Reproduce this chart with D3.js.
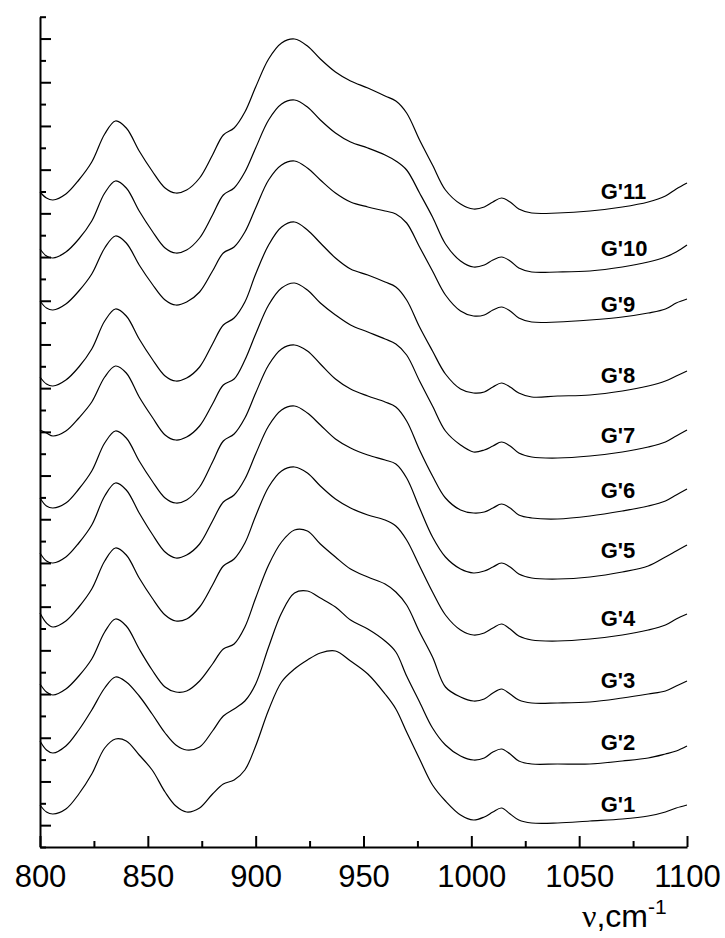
<!DOCTYPE html>
<html>
<head>
<meta charset="utf-8">
<script src="https://cdn.jsdelivr.net/npm/d3@7"></script>
<style>
  html, body { margin: 0; padding: 0; background: #fff; }
  svg { display: block; }
  .axis path, .axis line { stroke: #000; stroke-width: 2; }
  .spectrum { fill: none; stroke: #000; stroke-width: 1.2; }
</style>
</head>
<body>
<div id="chart"></div>
<script>
// wavenumbers, cm-1 (shared by every spectrum)
const wavenumbers = [800, 803, 806, 812, 818, 824, 830, 835, 840, 846,
  852, 858, 863, 868, 874, 880, 885, 890, 895, 900,
  906, 912, 918, 924, 930, 937, 944, 952, 960, 965,
  970, 976, 982, 988, 995, 1001, 1006, 1010, 1014, 1018,
  1022, 1028, 1040, 1055, 1070, 1082, 1090, 1095, 1100];

// stacked spectra, arbitrary units (already shifted as in the figure)
const g1 = [4.2, 3.5, 3.3, 3.8, 5.3, 7.3, 9.9, 10.8, 10.6, 9.2,
  7.7, 5.5, 4.1, 3.5, 3.9, 5.3, 6.3, 6.7, 7.7, 10.1,
  13.7, 16.5, 17.8, 18.7, 19.4, 19.6, 18.6, 17.3, 15.3, 13.8,
  11.5, 8.8, 6.2, 4.6, 3.2, 2.7, 3.0, 3.5, 3.9, 3.3,
  2.7, 2.4, 2.4, 2.6, 2.8, 3.1, 3.5, 3.9, 4.2];
const g2 = [10.6, 9.7, 9.4, 10.1, 11.7, 13.7, 15.9, 17.0, 16.5, 15.1,
  13.3, 11.4, 10.2, 9.7, 10.0, 11.6, 13.1, 13.8, 14.6, 16.3,
  20.0, 23.4, 25.4, 25.6, 24.9, 24.0, 22.7, 21.8, 20.6, 19.5,
  17.1, 14.5, 11.9, 10.2, 9.1, 8.7, 8.9, 9.5, 9.8, 9.3,
  8.6, 8.3, 8.3, 8.3, 8.6, 8.9, 9.3, 9.6, 10.1];
const g3 = [16.3, 15.5, 15.2, 15.8, 17.1, 18.8, 21.5, 22.8, 22.1, 19.8,
  17.7, 16.0, 15.5, 15.6, 16.6, 18.3, 19.8, 20.3, 22.0, 24.9,
  28.2, 30.5, 31.7, 31.6, 30.3, 29.0, 27.8, 27.0, 26.3, 25.5,
  24.2, 21.5, 19.0, 16.0, 15.0, 14.6, 14.8, 15.4, 15.8, 15.3,
  14.7, 14.4, 14.4, 14.5, 14.9, 15.3, 15.6, 16.1, 16.6];
const g4 = [23.4, 22.4, 22.0, 22.6, 24.0, 25.8, 28.6, 29.9, 29.2, 26.9,
  24.9, 23.2, 22.6, 22.8, 24.0, 26.2, 28.1, 28.8, 30.4, 33.1,
  36.0, 37.6, 38.0, 37.4, 36.1, 34.8, 33.9, 33.2, 32.7, 32.1,
  30.7, 28.1, 25.5, 23.2, 21.7, 21.2, 21.4, 21.9, 22.3, 21.8,
  21.1, 20.7, 20.6, 20.8, 21.2, 21.7, 22.2, 22.8, 23.3];
const g5 = [29.4, 28.6, 28.4, 29.0, 30.4, 32.2, 35.1, 36.4, 35.7, 33.4,
  31.3, 29.5, 28.9, 29.2, 30.3, 32.6, 34.5, 35.2, 36.8, 39.3,
  42.1, 43.7, 44.1, 43.4, 42.2, 40.8, 39.9, 39.2, 38.7, 38.3,
  36.9, 33.9, 31.0, 29.0, 27.8, 27.4, 27.6, 28.0, 28.4, 28.0,
  27.3, 26.9, 26.8, 27.0, 27.5, 28.1, 29.0, 29.6, 30.2];
const g6 = [34.9, 34.1, 33.9, 34.4, 35.8, 37.6, 40.4, 41.6, 40.9, 38.6,
  36.6, 34.9, 34.4, 34.7, 36.0, 38.5, 40.6, 41.3, 42.9, 45.4,
  48.2, 49.8, 50.2, 49.6, 48.3, 46.8, 45.8, 45.1, 44.5, 44.0,
  42.6, 39.7, 37.1, 34.9, 33.7, 33.4, 33.5, 33.9, 34.3, 33.9,
  33.2, 32.9, 32.8, 33.1, 33.6, 34.1, 34.6, 35.2, 35.8];
const g7 = [41.7, 41.4, 41.1, 41.6, 42.9, 44.5, 47.0, 48.1, 47.4, 45.0,
  43.0, 41.2, 40.7, 41.0, 42.1, 44.3, 46.2, 46.8, 48.7, 51.3,
  54.2, 55.9, 56.4, 55.7, 54.4, 53.2, 52.2, 51.5, 50.8, 50.3,
  49.2, 46.6, 44.1, 41.6, 40.2, 39.5, 39.7, 40.1, 40.5, 40.1,
  39.4, 39.0, 38.9, 39.1, 39.5, 40.0, 40.5, 41.1, 41.7];
const g8 = [47.0, 46.3, 46.1, 46.7, 48.0, 49.8, 52.6, 53.8, 53.1, 50.8,
  48.8, 47.1, 46.6, 46.9, 48.0, 50.3, 52.2, 52.9, 54.5, 57.3,
  60.2, 62.0, 62.5, 61.7, 60.4, 58.9, 57.8, 57.2, 56.5, 56.0,
  54.7, 52.0, 49.6, 47.3, 45.8, 45.4, 45.5, 46.0, 46.4, 46.0,
  45.4, 45.0, 45.1, 45.2, 45.6, 46.1, 46.6, 47.1, 47.6];
const g9 = [54.6, 53.9, 53.7, 54.3, 55.6, 57.3, 59.9, 61.1, 60.4, 58.2,
  56.3, 54.7, 54.2, 54.5, 55.5, 57.6, 59.4, 60.0, 61.5, 63.9,
  66.7, 68.2, 68.6, 67.9, 66.7, 65.4, 64.5, 64.0, 63.6, 63.3,
  62.4, 60.0, 57.6, 55.2, 53.6, 53.1, 53.2, 53.7, 54.0, 53.6,
  52.9, 52.5, 52.5, 52.7, 53.0, 53.4, 53.8, 54.4, 54.8];
const g10 = [59.8, 59.1, 58.9, 59.5, 60.8, 62.6, 65.4, 66.6, 65.9, 63.6,
  61.6, 59.9, 59.4, 59.7, 60.9, 63.2, 65.2, 65.9, 67.5, 69.9,
  72.7, 74.3, 74.7, 74.0, 72.7, 71.4, 70.5, 69.9, 69.2, 68.6,
  67.7, 65.4, 63.0, 60.3, 58.6, 58.0, 58.2, 58.7, 59.0, 58.6,
  57.9, 57.5, 57.5, 57.6, 58.0, 58.5, 59.0, 59.5, 60.2];
const g11 = [65.5, 64.9, 64.7, 65.3, 66.7, 68.5, 71.3, 72.6, 71.9, 69.6,
  67.6, 65.9, 65.4, 65.7, 66.9, 69.2, 71.2, 71.9, 73.5, 76.0,
  78.8, 80.4, 80.8, 80.1, 78.8, 77.5, 76.6, 75.9, 75.1, 74.6,
  73.4, 70.7, 68.2, 65.7, 64.3, 63.8, 64.0, 64.5, 64.9, 64.5,
  63.8, 63.4, 63.4, 63.6, 64.0, 64.5, 65.1, 65.8, 66.4];

const labels = ["G'1", "G'2", "G'3", "G'4", "G'5", "G'6", "G'7", "G'8", "G'9", "G'10", "G'11"];
const labelY = [3.5, 9.7, 15.9, 22.1, 28.9, 34.9, 40.4, 46.4, 53.5, 59.1, 64.8];
const labelX = 1060;

const xMajor = [800, 850, 900, 950, 1000, 1050, 1100];
const xMinor = [825, 875, 925, 975, 1025, 1075];

const width = 725, height = 938;
const margin = {top: 16.7, right: 38, bottom: 91, left: 40};
const yMax = 83.03;
const sans = "'Liberation Sans', Arial, Helvetica, sans-serif";

const x = d3.scaleLinear().domain([800, 1100]).range([margin.left, width - margin.right]);
const y = d3.scaleLinear().domain([0, yMax]).range([height - margin.bottom, margin.top]);

const svg = d3.select("#chart")
  .append("svg")
    .attr("width", width)
    .attr("height", height);

// spectra
const spectra = [g1, g2, g3, g4, g5, g6, g7, g8, g9, g10, g11];
const line = d3.line()
  .x((d, i) => x(wavenumbers[i]))
  .y(d => y(d))
  .curve(d3.curveCatmullRom.alpha(0.5));

svg.selectAll("path.spectrum")
  .data(spectra)
  .join("path")
    .attr("class", "spectrum")
    .attr("d", line);

// sample names
svg.selectAll("text.label")
  .data(labels)
  .join("text")
    .attr("class", "label")
    .attr("x", x(labelX))
    .attr("y", (d, i) => y(labelY[i]))
    .attr("font-family", sans)
    .attr("font-weight", "bold")
    .attr("font-size", 22)
    .text(d => d);

// y axis: no labels, alternating short/long ticks pointing inside
const yTicks = d3.range(39).map(i => i * yMax / 38);
svg.append("g")
    .attr("class", "axis")
    .attr("transform", `translate(${margin.left},0)`)
    .call(d3.axisLeft(y).tickValues(yTicks.filter((d, i) => i % 2 === 0))
      .tickSize(-6).tickSizeOuter(0).tickFormat(""));
svg.append("g")
    .attr("class", "axis")
    .attr("transform", `translate(${margin.left},0)`)
    .call(d3.axisLeft(y).tickValues(yTicks.filter((d, i) => i % 2 === 1))
      .tickSize(-11).tickFormat(""))
    .call(g => g.select(".domain").remove());

// x axis
svg.append("g")
    .attr("class", "axis")
    .attr("transform", `translate(0,${height - margin.bottom})`)
    .call(d3.axisBottom(x).tickValues(xMajor).tickSize(-11).tickSizeOuter(0)
      .tickPadding(18).tickFormat(d3.format("d")))
    .call(g => g.selectAll("text")
      .attr("font-size", 31)
      .attr("font-family", sans));
svg.append("g")
    .attr("class", "axis")
    .attr("transform", `translate(0,${height - margin.bottom})`)
    .call(d3.axisBottom(x).tickValues(xMinor).tickSize(-6).tickFormat(""))
    .call(g => g.select(".domain").remove());

// axis title
const title = svg.append("text")
    .attr("x", 582)
    .attr("y", 927)
    .attr("font-size", 32)
    .attr("font-family", sans);
title.append("tspan").attr("font-family", "'Liberation Serif', 'Times New Roman', serif").text("ν");
title.append("tspan").text(",cm");
title.append("tspan").attr("font-size", 21).attr("dy", -13).text("-1");
</script>
</body>
</html>
